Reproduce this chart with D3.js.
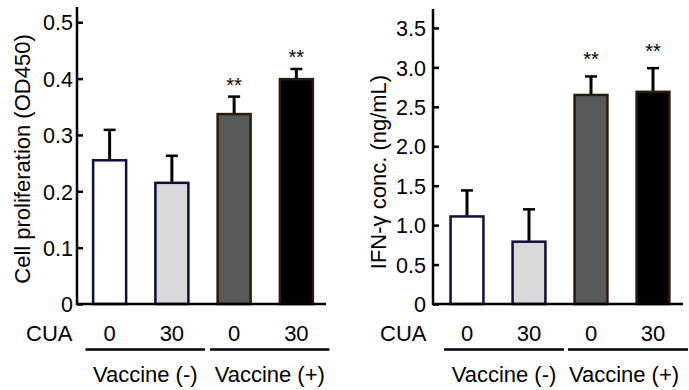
<!DOCTYPE html>
<html>
<head>
<meta charset="utf-8">
<script src="https://cdn.jsdelivr.net/npm/d3@7"></script>
<style>
	body { margin: 0; background: #fff; }
	svg text { font-family: Arial, 'Liberation Sans', sans-serif; fill: #000; }
</style>
</head>
<body>
<div id="chart"></div>
<script>
const cuaLabels = ['0', '30', '0', '30'];
const vaccineGroups = ['Vaccine (-)', 'Vaccine (+)'];
const barFills = ['#ffffff', '#d9d9d9', '#595959', '#000000'];
const barStrokes = ['#0e0e3c', '#0e0e3c', '#2b1b0b', '#2b1b0b'];

const prolifMean = [0.255, 0.215, 0.337, 0.399];
const prolifErr = [0.054, 0.048, 0.031, 0.018];
const prolifSig = ['', '', '**', '**'];
const prolifTicks = [0, 0.1, 0.2, 0.3, 0.4, 0.5];

const ifnMean = [1.11, 0.79, 2.65, 2.69];
const ifnErr = [0.33, 0.41, 0.235, 0.3];
const ifnSig = ['', '', '**', '**'];
const ifnTicks = [0, 0.5, 1.0, 1.5, 2.0, 2.5, 3.0, 3.5];

const W = 689;
const H = 390;
const FONT = 22;
const TICK_FONT = 21.5;

const svg = d3.select('#chart')
	.append('svg')
	.attr('width', W)
	.attr('height', H);

const drawPanel = (p) => {
	const g = svg.append('g');

	const y = d3.scaleLinear().domain([0, p.yMax]).range([p.baseY, p.topY]);
	const x = d3.scaleBand()
		.domain(d3.range(4))
		.range([p.bandL, p.bandR])
		.paddingInner(0.47)
		.paddingOuter(0.235);

	// y axis
	const yAxis = d3.axisLeft(y)
		.tickValues(p.ticks)
		.tickSize(-6)
		.tickPadding(p.labelGap)
		.tickFormat((d) => (d === 0 ? '0' : d3.format(p.fmt)(d)));

	const ya = g.append('g')
		.attr('transform', 'translate(' + p.axisX + ',0)')
		.call(yAxis);
	ya.select('.domain').remove();
	ya.selectAll('line').attr('stroke', '#000').attr('stroke-width', 2.5);
	ya.selectAll('text')
		.style('font-size', TICK_FONT + 'px')
		.attr('dy', '0.36em');

	// bars
	g.selectAll('rect.bar')
		.data(p.mean)
		.enter()
		.append('rect')
		.attr('class', 'bar')
		.attr('x', (d, i) => x(i))
		.attr('y', (d) => y(d))
		.attr('width', x.bandwidth())
		.attr('height', (d) => y(0) - y(d))
		.attr('fill', (d, i) => barFills[i])
		.attr('stroke', (d, i) => barStrokes[i])
		.attr('stroke-width', 2.5);

	// error bars (upper only)
	const cx = (i) => x(i) + x.bandwidth() / 2;
	g.selectAll('line.err')
		.data(p.mean)
		.enter()
		.append('line')
		.attr('class', 'err')
		.attr('x1', (d, i) => cx(i))
		.attr('x2', (d, i) => cx(i))
		.attr('y1', (d) => y(d) - 1)
		.attr('y2', (d, i) => y(d + p.err[i]))
		.attr('stroke', '#000')
		.attr('stroke-width', 3);

	g.selectAll('line.cap')
		.data(p.mean)
		.enter()
		.append('line')
		.attr('class', 'cap')
		.attr('x1', (d, i) => cx(i) - 6)
		.attr('x2', (d, i) => cx(i) + 6)
		.attr('y1', (d, i) => y(d + p.err[i]))
		.attr('y2', (d, i) => y(d + p.err[i]))
		.attr('stroke', '#000')
		.attr('stroke-width', 2.5);

	// significance marks
	g.selectAll('text.sig')
		.data(p.mean)
		.enter()
		.append('text')
		.attr('class', 'sig')
		.attr('x', (d, i) => cx(i))
		.attr('y', (d, i) => y(d + p.err[i]) - p.sigGap)
		.attr('text-anchor', 'middle')
		.style('font-size', '20px')
		.text((d, i) => p.sig[i]);

	// axis lines
	g.append('line')
		.attr('x1', p.axisX).attr('x2', p.axisX)
		.attr('y1', p.topY).attr('y2', p.baseY + 1)
		.attr('stroke', '#000').attr('stroke-width', 2.5);
	g.append('line')
		.attr('x1', p.axisX - 1).attr('x2', p.axisR)
		.attr('y1', p.baseY).attr('y2', p.baseY)
		.attr('stroke', '#000').attr('stroke-width', 2.5);

	// y label
	g.append('text')
		.attr('transform', 'translate(' + p.labelX + ',' + p.labelY + ') rotate(-90)')
		.attr('text-anchor', 'middle')
		.style('font-size', FONT + 'px')
		.text(p.yLabel);

	// CUA row
	g.append('text')
		.attr('x', p.cuaX)
		.attr('y', 341)
		.style('font-size', FONT + 'px')
		.text('CUA');
	g.selectAll('text.cua')
		.data(cuaLabels)
		.enter()
		.append('text')
		.attr('class', 'cua')
		.attr('x', (d, i) => cx(i))
		.attr('y', 341)
		.attr('text-anchor', 'middle')
		.style('font-size', FONT + 'px')
		.text((d) => d);

	// vaccine groups
	const step = x.step();
	vaccineGroups.forEach((name, k) => {
		const gl = p.bandL + k * 2 * step + p.lineIn;
		const gr = p.bandL + (k + 1) * 2 * step + p.lineOut;
		g.append('line')
			.attr('x1', gl).attr('x2', gr)
			.attr('y1', 349.5).attr('y2', 349.5)
			.attr('stroke', '#000').attr('stroke-width', 2.5);
		g.append('text')
			.attr('x', (gl + gr) / 2 + p.groupShift[k])
			.attr('y', 382)
			.attr('text-anchor', 'middle')
			.style('font-size', FONT + 'px')
			.text(name);
	});
};

drawPanel({
	mean: prolifMean,
	err: prolifErr,
	sig: prolifSig,
	ticks: prolifTicks,
	fmt: '.1f',
	yMax: 0.527,
	baseY: 304,
	topY: 7,
	axisX: 77,
	axisR: 326,
	bandL: 78.5,
	bandR: 327.5,
	labelGap: 4,
	sigGap: 5,
	labelX: 30,
	labelY: 159,
	yLabel: 'Cell proliferation (OD450)',
	cuaX: 26,
	lineIn: 7,
	lineOut: 2,
	groupShift: [0, 0]
});

drawPanel({
	mean: ifnMean,
	err: ifnErr,
	sig: ifnSig,
	ticks: ifnTicks,
	fmt: '.1f',
	yMax: 3.74,
	baseY: 304,
	topY: 9,
	axisX: 433,
	axisR: 683,
	bandL: 436,
	bandR: 684,
	labelGap: 7,
	sigGap: 10,
	labelX: 386,
	labelY: 172,
	yLabel: 'IFN-γ conc. (ng/mL)',
	cuaX: 380,
	lineIn: 8,
	lineOut: 4,
	groupShift: [0, -4]
});
</script>
</body>
</html>
